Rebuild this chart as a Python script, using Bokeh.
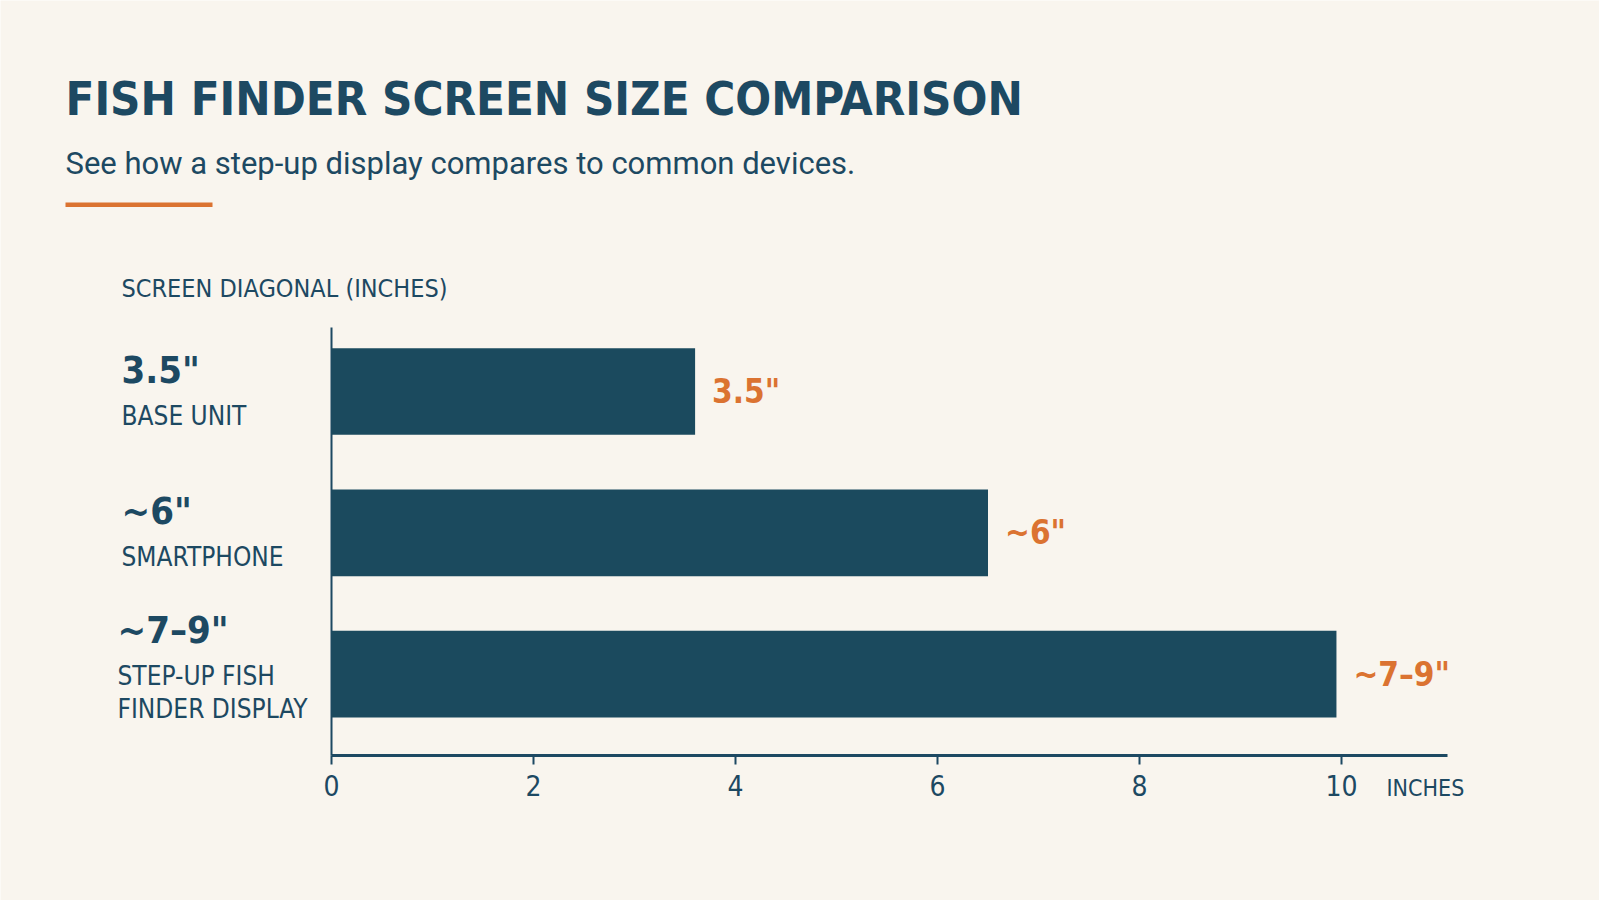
from bokeh.plotting import figure
from bokeh.models import Range1d, LinearAxis, FixedTicker, ColumnDataSource
from bokeh.core.properties import value
from bokeh.embed import file_html
from bokeh.resources import INLINE

# ---------------- data ----------------
devices = ["BASE UNIT", "SMARTPHONE", "STEP-UP FISH\nFINDER DISPLAY"]
size_labels = ['3.5"', '~6"', '~7\u20139"']
bar_values = [3.6, 6.5, 9.95]
tick_values = [0, 2, 4, 6, 8, 10]
axis_max = 11.05

title_text = "FISH FINDER SCREEN SIZE COMPARISON"
subtitle_text = "See how a step-up display compares to common devices."
axis_title_text = "SCREEN DIAGONAL (INCHES)"
unit_text = "INCHES"

# ---------------- style / layout ----------------
DARK = "#1d4962"
BAR = "#1b4a5e"
ORANGE = "#db7331"
BG = "#f9f5ee"
FONT_C = "'DejaVu Sans Condensed', 'Liberation Sans Narrow', Roboto"
FONT_S = "Roboto"

W, H = 1599, 900
AXIS_PX = 755.0
X0_PX = 331.0
PX_PER_IN = 101.0
ROW0_PX = 391.0
ROW_PX = 141.3


def X(px):
    return (px - X0_PX) / PX_PER_IN


def Y(py):
    return (py - ROW0_PX) / ROW_PX


p = figure(width=W, height=H,
           x_range=Range1d(X(0), X(W)), y_range=Range1d(Y(H), Y(0)),
           output_backend="svg", toolbar_location=None,
           x_axis_location=None, y_axis_location=None,
           min_border_left=0, min_border_right=0, min_border_top=0,
           min_border_bottom=0)
p.background_fill_color = BG
p.border_fill_color = BG
p.outline_line_color = None
for g in p.grid:
    g.visible = False

# x axis, fixed at the bottom of the bar area
xaxis = LinearAxis(ticker=FixedTicker(ticks=tick_values), bounds=(0, axis_max),
                   fixed_location=Y(AXIS_PX))
xaxis.axis_line_color = DARK
xaxis.axis_line_width = 3
xaxis.major_tick_in = 0
xaxis.major_tick_out = 9
xaxis.major_tick_line_color = DARK
xaxis.major_tick_line_width = 2
xaxis.minor_tick_line_color = None
xaxis.major_label_text_font = FONT_C
xaxis.major_label_text_font_size = "28px"
xaxis.major_label_text_color = DARK
xaxis.major_label_standoff = 10
p.add_layout(xaxis, "below")

idx = list(range(len(devices)))
n_lines = [d.count("\n") + 1 for d in devices]
big_y = [i + (-22 - (n - 1) * 22) / ROW_PX for i, n in zip(idx, n_lines)]
big_x = [X(121 - 4 * (n - 1)) for n in n_lines]

cat_x, cat_y, cat_t = [], [], []
for bx, b, d in zip(big_x, big_y, devices):
    for j, line in enumerate(d.split("\n")):
        cat_x.append(bx)
        cat_y.append(b + (46 + 32.6 * j) / ROW_PX)
        cat_t.append(line)

src = ColumnDataSource(dict(
    y=idx, v=bar_values, size=size_labels,
    big_y=big_y, lx=big_x,
    vx=[v + 17 / PX_PER_IN for v in bar_values],
))
cat_src = ColumnDataSource(dict(x=cat_x, y=cat_y, t=cat_t))

# vertical axis line
p.segment(x0=0, y0=Y(327), x1=0, y1=Y(AXIS_PX), line_color=DARK, line_width=2)

# bars
p.hbar(y="y", left=0, right="v", height=86.7 / ROW_PX, source=src,
       fill_color=BAR, line_color=None)

# value labels
p.text(x="vx", y="y", text="size", source=src, text_font=value(FONT_C),
       text_font_size="33px", text_font_style="bold", text_color=ORANGE,
       text_baseline="middle", text_align="left")

# left labels
p.text(x="lx", y="big_y", text="size", source=src, text_font=value(FONT_C),
       text_font_size="38px", text_font_style="bold", text_color=DARK,
       text_baseline="middle", text_align="left")
p.text(x="x", y="y", text="t", source=cat_src, text_font=value(FONT_C),
       text_font_size="26px", text_color=DARK,
       text_baseline="middle", text_align="left")

# header
p.text(x=[X(65)], y=[Y(98.4)], text=[title_text], text_font=value(FONT_C),
       text_font_size="47px", text_font_style="bold", text_color=DARK,
       text_baseline="middle", text_align="left")
p.text(x=[X(65)], y=[Y(163.2)], text=[subtitle_text], text_font=value(FONT_S),
       text_font_size="31px", text_color=DARK,
       text_baseline="middle", text_align="left")
p.quad(left=X(65), right=X(212), top=Y(202), bottom=Y(206.5),
       fill_color=ORANGE, line_color=None)

# axis titles
p.text(x=[X(121)], y=[Y(287.6)], text=[axis_title_text], text_font=value(FONT_C),
       text_font_size="25px", text_color=DARK,
       text_baseline="middle", text_align="left")
p.text(x=[X(1386)], y=[Y(787)], text=[unit_text], text_font=value(FONT_C),
       text_font_size="23px", text_color=DARK,
       text_baseline="middle", text_align="left")

open("out.html", "w").write(file_html(p, INLINE))
